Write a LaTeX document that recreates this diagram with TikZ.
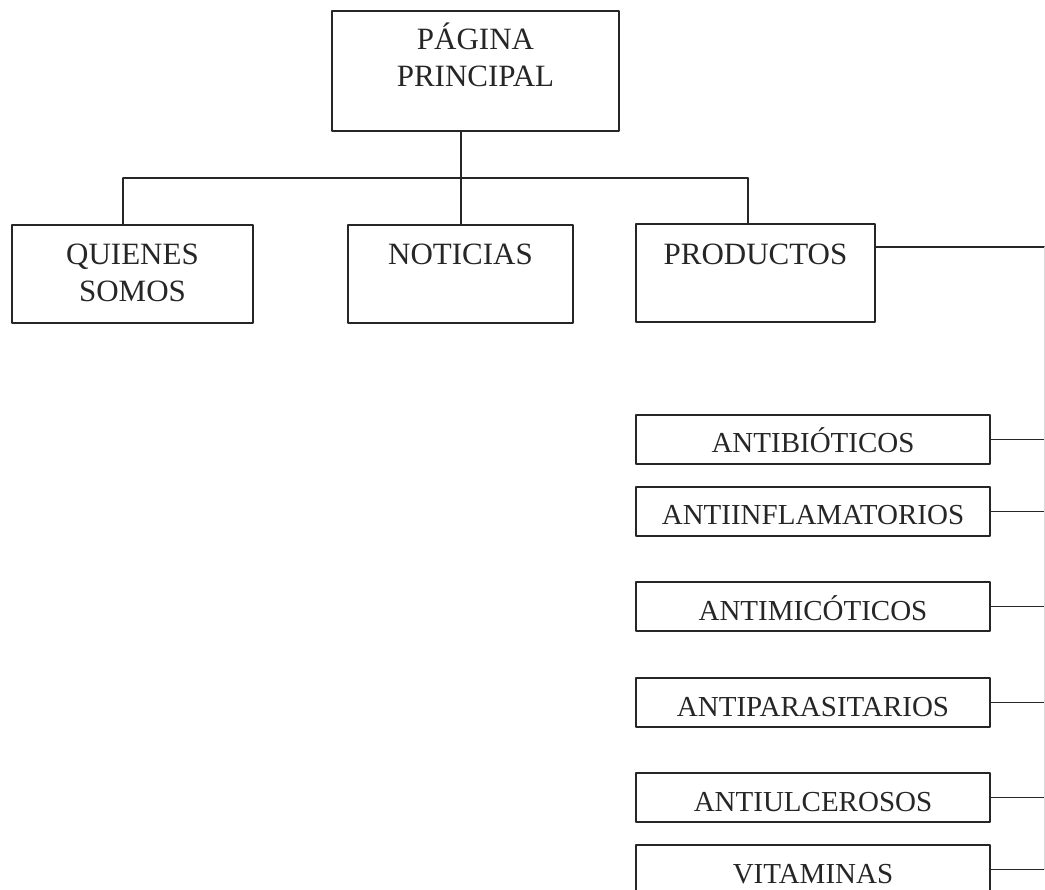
\documentclass[tikz,border=0pt]{standalone}
\usepackage{fontspec}
\setmainfont{Liberation Serif}
\newcommand\caja[4]{\parbox[c][#2][t]{#1}{\centering\rule{0pt}{#3}#4}}
\begin{document}
\begin{tikzpicture}[x=1pt, y=-1pt, line join=round, line cap=round, line width=1.2pt, color=black!85,
	caja/.style={draw, inner sep=0pt},
	grande/.style={caja, font=\fontsize{31}{37}\selectfont},
	chica/.style={caja, font=\fontsize{29}{35}\selectfont}]
	\useasboundingbox (0,0) rectangle (1045,890);
	\def\xder{1045} \def\ybus{178} % borde derecho y barra superior
	\node[grande] (pag) at (475.5,71) {\caja{287pt}{120pt}{39pt}{PÁGINA\\PRINCIPAL}};
	\node[grande] (quien) at (132.5,274) {\caja{241pt}{98pt}{40pt}{QUIENES\\SOMOS}};
	\node[grande] (noti) at (460.5,274) {\caja{225pt}{98pt}{40pt}{NOTICIAS}};
	\node[grande] (prod) at (755.5,273) {\caja{239pt}{98pt}{41pt}{PRODUCTOS}};
	\coordinate (bus) at (461,\ybus);
	\coordinate (busI) at (123,\ybus);
	\coordinate (busD) at (748,\ybus);
	\coordinate (der) at (\xder,247);
	\draw (pag.south -| bus) -- (noti.north -| bus);
	\draw (busI) -- (busD);
	\draw (busI) -- (quien.north -| busI);
	\draw (busD) -- (prod.north -| busD);
	\draw (prod.east |- der) -- (der);
	\foreach \n/\y/\t in {anb/439.5/ANTIBIÓTICOS, ani/511.5/ANTIINFLAMATORIOS, anm/606.5/ANTIMICÓTICOS,
		anp/702.5/ANTIPARASITARIOS, anu/797.5/ANTIULCEROSOS, vit/869.5/VITAMINAS}{
		\node[chica] (\n) at (813,\y) {\caja{354pt}{49pt}{38pt}{\t}};
		\draw (\n.east) -- (\n.east -| der);
	}
	\draw[black!15] (der) -- (vit.east -| der);
\end{tikzpicture}
\end{document}
